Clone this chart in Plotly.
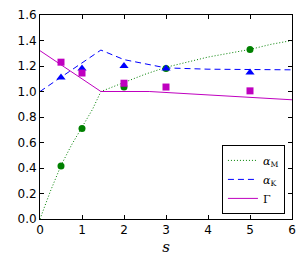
import plotly.graph_objects as go

# curves
curve_x = [0, 0.25, 0.5, 0.75, 1.0, 1.25, 1.45, 2.0, 2.5, 3.0, 3.5, 4.0, 4.5, 5.0, 5.5, 6.0]
alpha_M = [0.0, 0.22, 0.42, 0.58, 0.72, 0.86, 1.0, 1.07, 1.135, 1.19, 1.23, 1.27, 1.30, 1.33, 1.37, 1.40]
kx = [0, 1.45, 2.0, 2.6, 3.0, 4.0, 5.0, 6.0]
alpha_K = [1.0, 1.325, 1.25, 1.21, 1.185, 1.175, 1.17, 1.17]
gx = [0, 1.45, 2.6, 5.0, 6.0]
Gamma = [1.32, 1.0, 1.0, 0.955, 0.935]

# data points
sx = [0.5, 1, 2, 3, 5]
pts_M = [0.415, 0.71, 1.035, 1.18, 1.33]
pts_K = [1.11, 1.18, 1.20, 1.18, 1.15]
pts_G = [1.23, 1.145, 1.065, 1.035, 1.005]

green = "#008000"
blue = "#0000ff"
mag = "#bf00bf"

fig = go.Figure()
fig.add_trace(go.Scatter(x=curve_x, y=alpha_M, mode="lines", line=dict(color=green, dash="1px,2px", width=1),
                         name="<i>α</i><sub>M</sub>"))
fig.add_trace(go.Scatter(x=kx, y=alpha_K, mode="lines", line=dict(color=blue, dash="6px,4px", width=1),
                         name="<i>α</i><sub>K</sub>"))
fig.add_trace(go.Scatter(x=gx, y=Gamma, mode="lines", line=dict(color=mag, width=1),
                         name="Γ"))
fig.add_trace(go.Scatter(x=sx, y=pts_M, mode="markers", marker=dict(color=green, symbol="circle", size=7),
                         showlegend=False))
fig.add_trace(go.Scatter(x=sx, y=pts_K, mode="markers", marker=dict(color=blue, symbol="triangle-up", size=8),
                         showlegend=False))
fig.add_trace(go.Scatter(x=sx, y=pts_G, mode="markers", marker=dict(color=mag, symbol="square", size=7),
                         showlegend=False))

axis_common = dict(showgrid=False, zeroline=False, showline=True, linecolor="black", linewidth=1,
                   mirror="allticks", ticks="inside", ticklen=4, tickcolor="black", automargin=False,
                   tickfont=dict(family="DejaVu Sans", size=12, color="black"))
fig.update_layout(
    width=299, height=248,
    margin=dict(l=32, r=15, t=7, b=37),
    paper_bgcolor="white", plot_bgcolor="white",
    xaxis=dict(range=[0, 6], tickvals=[0, 1, 2, 3, 4, 5, 6],
               title=dict(text="<i>s</i>", font=dict(family="DejaVu Serif", size=15, color="black"), standoff=10),
               **axis_common),
    yaxis=dict(range=[0, 1.6], tickvals=[0, 0.2, 0.4, 0.6, 0.8, 1.0, 1.2, 1.4, 1.6], tickformat=".1f",
               **axis_common),
    legend=dict(x=0.972, y=0.025, xanchor="right", yanchor="bottom", bgcolor="white",
                bordercolor="black", borderwidth=1,
                font=dict(family="DejaVu Serif", size=11, color="black"),
                tracegroupgap=0, itemwidth=30),
    showlegend=True,
)
fig.write_html("out.html")
